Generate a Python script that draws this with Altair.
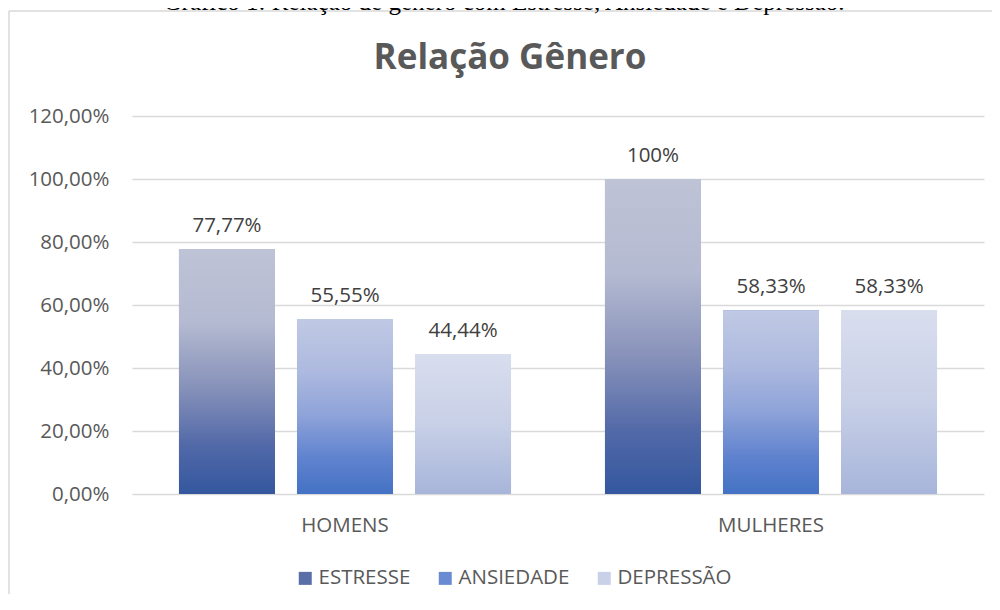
import altair as alt
import pandas as pd

# ---- data ----
groups = ["HOMENS", "MULHERES"]
series = ["ESTRESSE", "ANSIEDADE", "DEPRESSÃO"]
values_homens = [0.7777, 0.5555, 0.4444]
values_mulheres = [1.00, 0.5833, 0.5833]
labels_homens = ["77,77%", "55,55%", "44,44%"]
labels_mulheres = ["100%", "58,33%", "58,33%"]
y_ticks = [0, 0.2, 0.4, 0.6, 0.8, 1.0, 1.2]
chart_title = "Relação Gênero"
caption_text = "Gráfico 1: Relação de gênero com Estresse, Ansiedade e Depressão."

rows = []
for s, v, l in zip(series, values_homens, labels_homens):
    rows.append({"grupo": "HOMENS", "serie": s, "valor": v, "rotulo": l})
for s, v, l in zip(series, values_mulheres, labels_mulheres):
    rows.append({"grupo": "MULHERES", "serie": s, "valor": v, "rotulo": l})
df = pd.DataFrame(rows)

# ---- styles ----
FONT = "Open Sans"
FS = 20.5
legend_colors = ["#5a6ea8", "#6a8bd2", "#c9d1e8"]


def grad(stops):
    return alt.LinearGradient(
        gradient="linear",
        x1=0, y1=0, x2=0, y2=1,
        stops=[alt.GradientStop(offset=o, color=c) for o, c in stops],
    )


gradients = {
    "ESTRESSE": grad([(0, "#bec3d6"), (0.3, "#b4bad1"), (0.55, "#8a94bb"),
                      (0.8, "#5269a8"), (1, "#34579f")]),
    "ANSIEDADE": grad([(0, "#c0c9e4"), (0.3, "#adb9df"), (0.55, "#8ea3d9"),
                       (0.8, "#5f82ce"), (1, "#4472c4")]),
    "DEPRESSÃO": grad([(0, "#d9deee"), (0.5, "#c8d0e7"), (1, "#a7b5da")]),
}

x_enc = alt.X(
    "grupo:N",
    scale=alt.Scale(domain=groups, paddingInner=0, paddingOuter=0),
    axis=alt.Axis(title=None, labelAngle=0, domain=False, ticks=False, tickSize=0,
                  labelPadding=21, labelFont=FONT, labelFontSize=FS,
                  labelColor="#595959"),
)
xoff_enc = alt.XOffset(
    "serie:N",
    scale=alt.Scale(domain=series, paddingInner=0.1864, paddingOuter=0.398),
)
y_enc = alt.Y(
    "valor:Q",
    scale=alt.Scale(domain=[0, 1.2], nice=False),
    axis=alt.Axis(title=None, values=y_ticks, domain=False, ticks=False, tickSize=0,
                  labelPadding=23, labelFont=FONT, labelFontSize=FS,
                  labelColor="#595959", gridColor="#d9d9d9", gridWidth=1.5,
                  labelExpr="replace(format(datum.value, '.2%'), '.', ',')"),
)

base = alt.Chart(df)

legend_layer = base.mark_bar().encode(
    x=x_enc, xOffset=xoff_enc, y=y_enc,
    color=alt.Color(
        "serie:N",
        scale=alt.Scale(domain=series, range=legend_colors),
        legend=alt.Legend(
            title=None, orient="none", direction="horizontal",
            legendX=163, legendY=452, padding=0,
            symbolType="square", symbolSize=169, symbolStrokeWidth=0,
            labelFont=FONT, labelFontSize=FS, labelColor="#595959",
            labelOffset=3, columnPadding=24,
        ),
    ),
)

bar_layers = [
    base.transform_filter(alt.datum.serie == s)
    .mark_bar(fill=gradients[s])
    .encode(x=x_enc, xOffset=xoff_enc, y=y_enc)
    for s in series
]

text_layer = base.mark_text(
    baseline="alphabetic", dy=-17.5, font=FONT, fontSize=FS, color="#404040"
).encode(x=x_enc, xOffset=xoff_enc, y=y_enc, text="rotulo:N")

one = alt.Data(values=[{"k": 1}])
frame_top = alt.Chart(one).mark_rule(color="#d9d9d9", strokeWidth=1.5).encode(
    x=alt.value(-123), x2=alt.value(860), y=alt.value(-105)
)
frame_left = alt.Chart(one).mark_rule(color="#d9d9d9", strokeWidth=1.5).encode(
    x=alt.value(-123), y=alt.value(-105), y2=alt.value(478)
)

caption = alt.Chart(alt.Data(values=[{"t": caption_text}])).mark_text(
    font="Liberation Serif", fontSize=25, color="#000000",
    baseline="alphabetic", align="center",
).encode(x=alt.value(372), y=alt.value(-106.5), text="t:N")

title = alt.Chart(alt.Data(values=[{"t": chart_title}])).mark_text(
    font=FONT, fontSize=35, fontWeight="bold", color="#595959",
    baseline="alphabetic", align="center",
).encode(x=alt.value(378), y=alt.value(-47), text="t:N")

chart = alt.layer(
    frame_top, frame_left, caption, title, legend_layer, *bar_layers, text_layer
).properties(
    width=852,
    height=378,
    autosize=alt.AutoSizeParams(type="none"),
    padding={"left": 124, "top": 108, "right": 8, "bottom": 100},
).configure_view(stroke=None)

chart.save("out.html", embed_options={"renderer": "svg", "actions": False})
